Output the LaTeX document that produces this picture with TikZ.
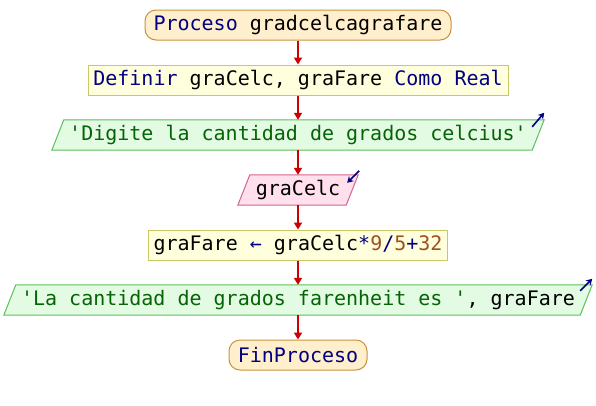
\documentclass[tikz,border=0pt]{standalone}
\usepackage{fontspec}
\setmonofont{DejaVu Sans Mono}
\usetikzlibrary{arrows.meta,backgrounds}

\definecolor{termfill}{HTML}{FFEFCC}
\definecolor{termdraw}{HTML}{C8923C}
\definecolor{procfill}{HTML}{FFFFDD}
\definecolor{procdraw}{HTML}{C8C864}
\definecolor{outfill}{HTML}{E2FBE2}
\definecolor{outdraw}{HTML}{5CC05C}
\definecolor{infill}{HTML}{FFE0EC}
\definecolor{indraw}{HTML}{D0668C}
\definecolor{kw}{HTML}{000080}
\definecolor{str}{HTML}{056405}
\definecolor{num}{HTML}{A0521E}
\definecolor{flow}{HTML}{CC0000}

\newcommand{\kw}[1]{\textcolor{kw}{#1}}
\newcommand{\str}[1]{\textcolor{str}{#1}}
\newcommand{\num}[1]{\textcolor{num}{#1}}

\tikzset{
  code/.style={font=\ttfamily\fontsize{20}{22}\selectfont, inner sep=0pt,
    minimum height=30pt, anchor=center},
  terminal/.style={code, draw=termdraw, fill=termfill, line width=1pt,
    rounded corners=11pt},
  procbox/.style={code, draw=procdraw, fill=procfill, line width=1pt},
  iobody/.style={code},
  outshape/.style={draw=outdraw, fill=outfill, line width=1pt},
  inshape/.style={draw=indraw, fill=infill, line width=1pt},
  flowline/.style={draw=flow, line width=2pt,
    -{Triangle[width=8pt,length=7pt]}},
  ioarrow/.style={draw=kw, line width=1.6pt,
    -{Stealth[width=7pt,length=6pt]}}
}

% parallelogram drawn behind a text node: slant of #3 on each side
\newcommand{\slantbox}[3]{%
  \begin{pgfonlayer}{background}
    \path[#2] ([xshift=#3pt]#1.north west) -- ([xshift=#3pt]#1.north east)
      -- ([xshift=-#3pt]#1.south east) -- ([xshift=-#3pt]#1.south west) -- cycle;
  \end{pgfonlayer}}

\begin{document}
\begin{tikzpicture}[x=1pt,y=-1pt]
  \useasboundingbox (0,0) rectangle (596,405);

  \node[terminal, minimum width=306pt] (start) at (298,25)
    {\kw{Proceso} gradcelcagrafare};
  \node[procbox, minimum width=420pt] (def) at (298,80)
    {\kw{Definir} graCelc, graFare \kw{Como Real}};
  \node[iobody, minimum width=480pt] (msg) at (298,135)
    {\str{'Digite la cantidad de grados celcius'}};
  \slantbox{msg}{outshape}{6}
  \node[iobody, minimum width=108pt] (read) at (298,190) {graCelc};
  \slantbox{read}{inshape}{6}
  \node[procbox, minimum width=299pt] (calc) at (298,245)
    {graFare \kw{←} graCelc\kw{*}\num{9}\kw{/}\num{5}\kw{+}\num{32}};
  \node[iobody, minimum width=576pt] (show) at (298,300)
    {\str{'La cantidad de grados farenheit es '}, graFare};
  \slantbox{show}{outshape}{6}
  \node[terminal, minimum width=138pt] (stop) at (298,355)
    {\kw{FinProceso}};

  % flow connectors
  \draw[flowline] (start.south) -- (def.north);
  \draw[flowline] (def.south) -- (msg.north);
  \draw[flowline] (msg.south) -- (read.north);
  \draw[flowline] (read.south) -- (calc.north);
  \draw[flowline] (calc.south) -- (show.north);
  \draw[flowline] (show.south) -- (stop.north);

  % output / input markers
  \coordinate (msgA) at ([shift={(-6,7)}]msg.north east);
  \coordinate (msgB) at ([shift={(6,-7)}]msg.north east);
  \draw[ioarrow] (msgA) -- (msgB);
  \coordinate (readA) at ([shift={(7,-4)}]read.north east);
  \coordinate (readB) at ([shift={(-5,8)}]read.north east);
  \draw[ioarrow] (readA) -- (readB);
  \coordinate (showA) at ([shift={(-6,6)}]show.north east);
  \coordinate (showB) at ([shift={(6,-6)}]show.north east);
  \draw[ioarrow] (showA) -- (showB);
\end{tikzpicture}
\end{document}
